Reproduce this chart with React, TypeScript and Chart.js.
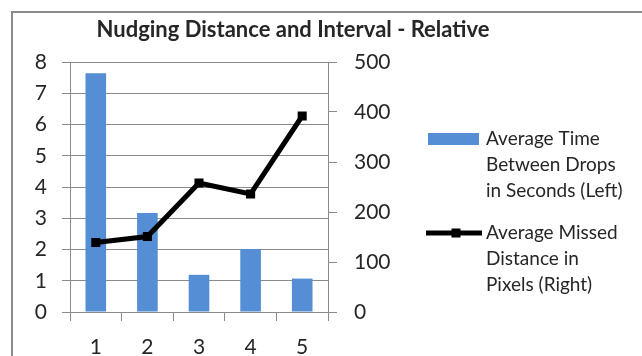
import React, { useEffect, useRef } from "react";
import { Chart, registerables } from "chart.js";

Chart.register(...registerables);

const categories = ["1", "2", "3", "4", "5"];
const avgTimeSeconds = [7.64, 3.17, 1.19, 2.02, 1.07];
const avgMissedPixels = [139, 151, 258, 236, 392];

const titleText = "Nudging Distance and Interval - Relative";
const timeLegendLines = ["Average Time", "Between Drops", "in Seconds (Left)"];
const missedLegendLines = ["Average Missed", "Distance in", "Pixels (Right)"];

const FONT = "Lato, 'Open Sans', sans-serif";
const BAR_COLOR = "#558ED5";
const TEXT_COLOR = "#262626";
const GRID_COLOR = "#8a8a8a";

// Frame, title and a wrapped legend drawn around the plot
const decorations = {
  id: "decorations",
  beforeDraw(chart: Chart) {
    const ctx = chart.ctx;
    ctx.save();
    ctx.fillStyle = "#ffffff";
    ctx.fillRect(0, 0, chart.width, chart.height);
    ctx.strokeStyle = "#8c8c8c";
    ctx.lineWidth = 2;
    ctx.strokeRect(12, 12, chart.width + 20, chart.height + 20);
    ctx.restore();
  },
  afterDraw(chart: Chart) {
    const ctx = chart.ctx;
    ctx.save();
    ctx.fillStyle = TEXT_COLOR;
    ctx.textBaseline = "middle";
    ctx.textAlign = "center";
    ctx.font = `bold 22px ${FONT}`;
    ctx.fillText(titleText, 293, 30);

    ctx.textAlign = "left";
    ctx.font = `19px ${FONT}`;
    // bar series entry
    ctx.fillStyle = BAR_COLOR;
    ctx.fillRect(428, 133, 51, 12);
    ctx.fillStyle = TEXT_COLOR;
    timeLegendLines.forEach((t, i) => ctx.fillText(t, 486, 139 + i * 26));

    // line series entry
    ctx.strokeStyle = "#000";
    ctx.lineWidth = 5;
    ctx.beginPath();
    ctx.moveTo(426, 233);
    ctx.lineTo(482, 233);
    ctx.stroke();
    ctx.fillStyle = "#000";
    ctx.fillRect(451.5, 228.5, 9, 9);
    ctx.fillStyle = TEXT_COLOR;
    missedLegendLines.forEach((t, i) => ctx.fillText(t, 486, 233 + i * 26));
    ctx.restore();
  },
};

export default function App() {
  const canvasRef = useRef<HTMLCanvasElement | null>(null);

  useEffect(() => {
    document.body.style.margin = "0";
    const canvas = canvasRef.current;
    if (!canvas) return;

    const chart = new Chart(canvas, {
      type: "bar",
      data: {
        labels: categories,
        datasets: [
          {
            type: "line",
            label: missedLegendLines.join(" "),
            data: avgMissedPixels,
            yAxisID: "y1",
            borderColor: "#000000",
            backgroundColor: "#000000",
            borderWidth: 5,
            pointStyle: "rect",
            pointRadius: 5,
            pointBorderWidth: 2,
            tension: 0,
            order: 0,
          },
          {
            type: "bar",
            label: timeLegendLines.join(" "),
            data: avgTimeSeconds,
            yAxisID: "y",
            backgroundColor: BAR_COLOR,
            barPercentage: 0.8,
            categoryPercentage: 0.5,
            order: 1,
          },
        ],
      },
      options: {
        responsive: false,
        animation: false,
        layout: { padding: { left: 0, right: 234, top: 62, bottom: 0 } },
        plugins: {
          legend: { display: false },
          title: { display: false },
          tooltip: { enabled: false },
        },
        scales: {
          x: {
            offset: true,
            grid: {
              offset: true,
              drawOnChartArea: false,
              drawTicks: true,
              tickLength: 9,
              color: GRID_COLOR,
            },
            border: { color: GRID_COLOR },
            ticks: { color: TEXT_COLOR, font: { family: FONT, size: 21 }, padding: 14 },
            afterFit(scale: any) {
              scale.height = 44;
            },
          },
          y: {
            position: "left",
            min: 0,
            max: 8,
            ticks: { stepSize: 1, color: TEXT_COLOR, font: { family: FONT, size: 21 }, padding: 15 },
            grid: { color: GRID_COLOR, tickLength: 8 },
            border: { color: GRID_COLOR },
            afterFit(scale: any) {
              scale.width = 70;
            },
          },
          y1: {
            position: "right",
            min: 0,
            max: 500,
            ticks: { stepSize: 100, color: TEXT_COLOR, font: { family: FONT, size: 21 }, padding: 17 },
            grid: { drawOnChartArea: false, color: GRID_COLOR, tickLength: 9 },
            border: { color: GRID_COLOR },
            afterFit(scale: any) {
              scale.width = 80;
            },
          },
        },
      },
      plugins: [decorations],
    });

    return () => chart.destroy();
  }, []);

  return (
    <div style={{ width: 642, height: 356 }}>
      <canvas ref={canvasRef} width={642} height={356} />
    </div>
  );
}
